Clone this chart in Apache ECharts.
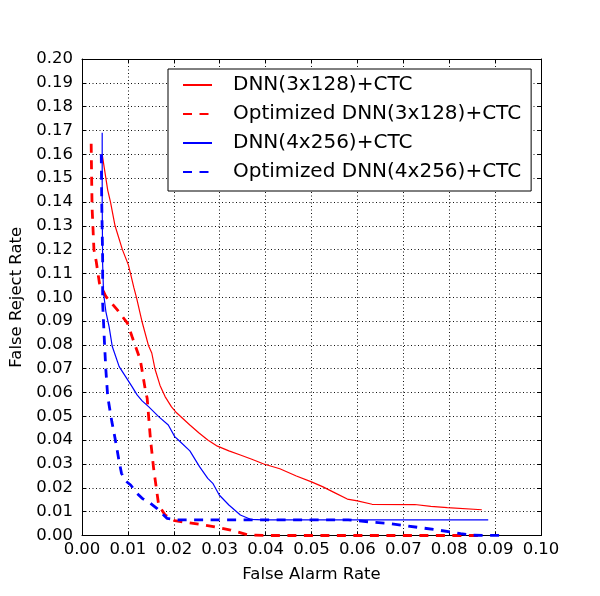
<!DOCTYPE html>
<html>
	<head>
		<meta charset="utf-8">
	</head>
	<body style="margin: 0; background: #fff">
		<div id="container" style="width: 600px; height: 596px"></div>
		<script type="text/javascript" src="https://cdn.jsdelivr.net/npm/echarts@6/dist/echarts.min.js"></script>
		<script type="text/javascript">
			// [false alarm rate, false reject rate]
			const dnn3x128 = [
				[0.0044, 0.160], [0.0056, 0.145], [0.0062, 0.140], [0.0072, 0.130], [0.0088, 0.120],
				[0.0101, 0.1136], [0.0106, 0.1097], [0.0113, 0.104], [0.0119, 0.0996], [0.0131, 0.0896],
				[0.0145, 0.0796], [0.0152, 0.0766], [0.0159, 0.0699], [0.0170, 0.063], [0.0181, 0.0583],
				[0.0195, 0.054], [0.0206, 0.0515], [0.0235, 0.0464], [0.0255, 0.043], [0.0274, 0.0401],
				[0.0295, 0.0375], [0.0320, 0.0355], [0.0345, 0.0338], [0.0370, 0.032], [0.0396, 0.0300],
				[0.0431, 0.0280], [0.0467, 0.0250], [0.0500, 0.0225], [0.0524, 0.0205], [0.0550, 0.018],
				[0.0578, 0.0153], [0.0600, 0.0145], [0.0632, 0.0131], [0.0725, 0.0130], [0.0760, 0.0122],
				[0.0796, 0.0117], [0.0871, 0.0108]
			]
			const optDnn3x128 = [
				[0.0020, 0.1644], [0.0021, 0.150], [0.0022, 0.1375], [0.0026, 0.120], [0.0031, 0.115],
				[0.0038, 0.1059], [0.0052, 0.1003], [0.0077, 0.0947], [0.0099, 0.0891], [0.0109, 0.0835],
				[0.0127, 0.0737], [0.0138, 0.0611], [0.0142, 0.0576], [0.0149, 0.0408], [0.0156, 0.0282],
				[0.0167, 0.0128], [0.0181, 0.0086], [0.0202, 0.0062], [0.0267, 0.0044], [0.0324, 0.0023],
				[0.0363, 0.0002], [0.0400, 0], [0.0865, 0]
			]
			const dnn4x256 = [
				[0.0044, 0.169], [0.0044, 0.140], [0.0045, 0.1136], [0.0047, 0.1017], [0.0052, 0.094],
				[0.0059, 0.0877], [0.0066, 0.0793], [0.0081, 0.0709], [0.0095, 0.0667], [0.0109, 0.0625],
				[0.0120, 0.059], [0.0131, 0.0565], [0.0145, 0.0541], [0.0167, 0.0499], [0.0188, 0.0464],
				[0.0202, 0.0415], [0.0210, 0.0401], [0.0235, 0.0355], [0.0256, 0.0289], [0.0274, 0.0240],
				[0.0285, 0.0219], [0.0299, 0.0170], [0.0320, 0.0128], [0.0345, 0.0086], [0.0367, 0.0068],
				[0.0395, 0.0066], [0.0885, 0.0066]
			]
			const optDnn4x256 = [
				[0.0042, 0.160], [0.0043, 0.140], [0.0045, 0.1157], [0.0045, 0.0975], [0.0049, 0.0807],
				[0.0052, 0.0695], [0.0056, 0.0583], [0.0065, 0.0478], [0.0072, 0.0408], [0.0081, 0.0310],
				[0.0086, 0.0261], [0.0095, 0.0229], [0.0106, 0.0212], [0.0120, 0.0177], [0.0131, 0.0156],
				[0.0149, 0.0135], [0.0163, 0.0114], [0.0185, 0.0072], [0.0206, 0.0066], [0.0580, 0.0066],
				[0.0632, 0.0056], [0.0667, 0.0051], [0.0710, 0.0040], [0.0782, 0.0021], [0.0825, 0.0008],
				[0.0853, 0.0001], [0.0921, 0]
			]
			const seriesNames = ['DNN(3x128)+CTC', 'Optimized DNN(3x128)+CTC', 'DNN(4x256)+CTC', 'Optimized DNN(4x256)+CTC']

			const font = 'DejaVu Sans'
			const dash = [9, 7.5]

			var chartDom = document.getElementById('container');
			var myChart = echarts.init(chartDom);

			function frameAxis(pos) {
				return {
					type: 'value',
					position: pos,
					min: 0,
					max: pos == 'top' || pos == 'bottom' ? 0.1 : 0.2,
					interval: 0.01,
					axisLine: { show: true, onZero: false, lineStyle: { color: '#000', width: 1 } },
					axisTick: { show: true, inside: true, length: 4, lineStyle: { color: '#000' } },
					axisLabel: { show: false },
					splitLine: { show: false }
				}
			}

			var option = {
				animation: false,
				backgroundColor: '#fff',
				textStyle: { fontFamily: font },
				grid: { left: 76, right: 59, top: 59, bottom: 60.5 },
				legend: {
					orient: 'vertical',
					left: 168,
					top: 69,
					data: seriesNames,
					padding: [6, 10, 9, 14],
					itemWidth: 29,
					itemHeight: 20,
					itemGap: 9,
					// hide the marker circle, keep only the line sample
					itemStyle: { opacity: 0, borderWidth: 0 },
					backgroundColor: '#fff',
					borderColor: '#000',
					borderWidth: 1,
					borderRadius: 0,
					textStyle: { fontFamily: font, fontSize: 20, color: '#000', lineHeight: 20, padding: [0, 0, 0, 16] }
				},
				xAxis: [{
						type: 'value',
						min: 0,
						max: 0.1,
						interval: 0.01,
						name: 'False Alarm Rate',
						nameLocation: 'middle',
						nameGap: 31,
						nameTextStyle: { fontFamily: font, fontSize: 16.5, color: '#000' },
						axisLine: { show: true, onZero: false, lineStyle: { color: '#000', width: 1 } },
						axisTick: { show: true, inside: true, length: 4, lineStyle: { color: '#000' } },
						axisLabel: {
							margin: 6,
							fontFamily: font,
							fontSize: 16.5,
							color: '#000',
							formatter: v => v.toFixed(2)
						},
						splitLine: { show: true, lineStyle: { color: '#111', width: 1, type: [1, 2.5] } }
					},
					frameAxis('top')
				],
				yAxis: [{
						type: 'value',
						min: 0,
						max: 0.2,
						interval: 0.01,
						name: 'False Reject Rate',
						nameLocation: 'middle',
						nameGap: 57,
						nameTextStyle: { fontFamily: font, fontSize: 16.5, color: '#000' },
						axisLine: { show: true, onZero: false, lineStyle: { color: '#000', width: 1 } },
						axisTick: { show: true, inside: true, length: 4, lineStyle: { color: '#000' } },
						axisLabel: {
							margin: 9,
							fontFamily: font,
							fontSize: 16.5,
							color: '#000',
							formatter: v => v.toFixed(2)
						},
						splitLine: { show: true, lineStyle: { color: '#111', width: 1, type: [1, 2.5] } }
					},
					frameAxis('right')
				],
				series: [{
						name: seriesNames[0],
						type: 'line',
						symbol: 'none',
						lineStyle: { color: '#ff0000', width: 1.2 },
						itemStyle: { color: '#ff0000' },
						data: dnn3x128
					},
					{
						name: seriesNames[1],
						type: 'line',
						symbol: 'none',
						lineStyle: { color: '#ff0000', width: 2.8, type: dash },
						itemStyle: { color: '#ff0000' },
						data: optDnn3x128
					},
					{
						name: seriesNames[2],
						type: 'line',
						symbol: 'none',
						lineStyle: { color: '#0000ff', width: 1.2 },
						itemStyle: { color: '#0000ff' },
						data: dnn4x256
					},
					{
						name: seriesNames[3],
						type: 'line',
						symbol: 'none',
						lineStyle: { color: '#0000ff', width: 2.8, type: dash },
						itemStyle: { color: '#0000ff' },
						data: optDnn4x256
					}
				]
			};
			option && myChart.setOption(option);
		</script>
	</body>
</html>
